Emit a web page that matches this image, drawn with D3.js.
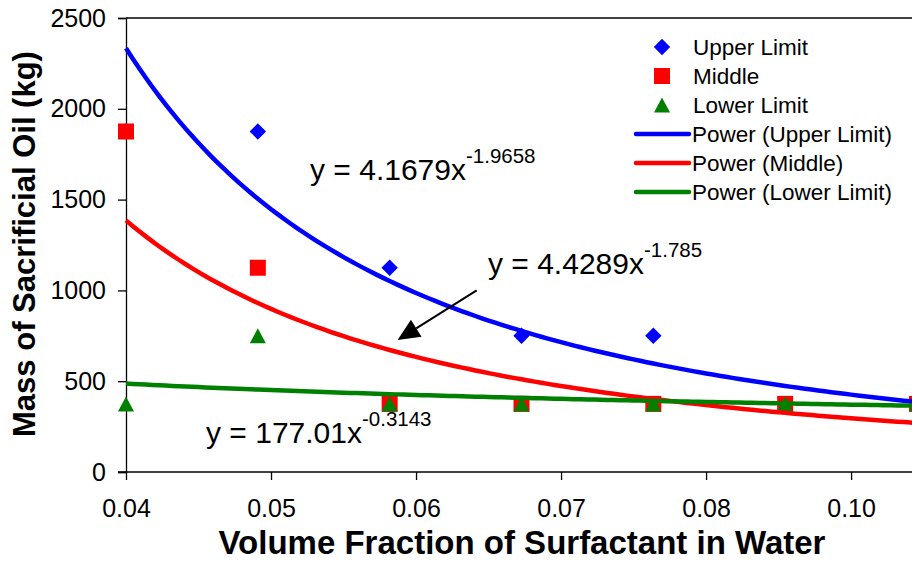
<!DOCTYPE html>
<html>
<head>
<meta charset="utf-8">
<script src="https://cdn.jsdelivr.net/npm/d3@7"></script>
<style>
  html, body { margin: 0; padding: 0; background: #fff; }
  svg { display: block; font-family: "Liberation Sans", Arial, sans-serif; }
</style>
</head>
<body>
<svg id="chart" width="912" height="562"></svg>
<script>
// Volume fraction of surfactant (x) and sacrificial oil mass (kg) per case
const fractions   = [0.04, 0.05, 0.06, 0.07, 0.08, 0.09, 0.10];
const upperLimit  = [1875, 1875, 1125, 750, 750, 375, 375];
const middle      = [1875, 1125, 375, 375, 375, 375, 375];
const lowerLimit  = [375, 750, 375, 375, 375, 375, 375];

// Power-law fits y = a * x^b
const fitCoef     = [4.1679, 4.4289, 177.01];
const fitExp      = [-1.9658, -1.785, -0.3143];

// Axis ticks
const xTickValues = [0.04, 0.051, 0.062, 0.073, 0.084, 0.095];
const xTickLabels = ["0.04", "0.05", "0.06", "0.07", "0.08", "0.10"];
const yTickValues = [0, 500, 1000, 1500, 2000, 2500];

const seriesNames = ["Upper Limit", "Middle", "Lower Limit"];
const colors = ["#0000ff", "#ff0000", "#008000"];
const shapes = ["diamond", "square", "triangle"];

const svg = d3.select("#chart");
const W = 912, H = 562;

const x = d3.scaleLinear().domain([0.04, 0.10]).range([126, 917]);
const y = d3.scaleLinear().domain([0, 2500]).range([472, 18]);

function markerPath(shape, cx, cy) {
  const p = d3.path();
  if (shape === "diamond") {
    const r = 8.2;
    p.moveTo(cx, cy - r); p.lineTo(cx + r, cy); p.lineTo(cx, cy + r); p.lineTo(cx - r, cy); p.closePath();
  } else if (shape === "square") {
    const h = 8;
    p.rect(cx - h, cy - h, 2 * h, 2 * h);
  } else {
    const hw = 8, hh = 7.5;
    p.moveTo(cx, cy - hh); p.lineTo(cx + hw, cy + hh); p.lineTo(cx - hw, cy + hh); p.closePath();
  }
  return p.toString();
}

// Axes
const axisG = svg.append("g");
// top border of plot area
axisG.append("line").attr("x1", x(0.04)).attr("x2", W).attr("y1", y(2500)).attr("y2", y(2500))
  .attr("stroke", "#000").attr("stroke-width", 1.3);

const yAxis = d3.axisLeft(y).tickValues(yTickValues).tickSize(8).tickPadding(12).tickFormat(d3.format("d"));
const yG = axisG.append("g").attr("transform", `translate(${x(0.04)},0)`).call(yAxis);
yG.select(".domain").attr("stroke", "#000").attr("stroke-width", 1.3);
yG.selectAll(".tick line").attr("stroke", "#000").attr("stroke-width", 1.3);
yG.selectAll(".tick text").attr("font-size", 25).attr("fill", "#000")
  .attr("font-family", "Liberation Sans, Arial, sans-serif");

const xAxis = d3.axisBottom(x).tickValues(xTickValues).tickSize(8).tickPadding(19)
  .tickFormat((d, i) => xTickLabels[i]);
const xG = axisG.append("g").attr("transform", `translate(0,${y(0)})`).call(xAxis);
xG.select(".domain").attr("stroke", "#000").attr("stroke-width", 1.3).attr("d", `M${x(0.04) - 8},0H${W}`);
xG.selectAll(".tick line").attr("stroke", "#000").attr("stroke-width", 1.3);
xG.selectAll(".tick text").attr("font-size", 25).attr("fill", "#000")
  .attr("font-family", "Liberation Sans, Arial, sans-serif");

// Axis titles
svg.append("text")
  .attr("x", 522).attr("y", 554)
  .attr("text-anchor", "middle")
  .attr("font-size", 33).attr("font-weight", "bold")
  .text("Volume Fraction of Surfactant in Water");

svg.append("text")
  .attr("transform", `translate(35,244) rotate(-90)`)
  .attr("text-anchor", "middle")
  .attr("font-size", 31).attr("font-weight", "bold")
  .text("Mass of Sacrificial Oil (kg)");

// Data markers
const allSeries = [upperLimit, middle, lowerLimit];
allSeries.forEach((vals, s) => {
  svg.append("g").selectAll("path")
    .data(vals.map((v, i) => [fractions[i], v]))
    .join("path")
    .attr("d", d => markerPath(shapes[s], x(d[0]), y(d[1])))
    .attr("fill", colors[s]);
});

// Power trend lines
const curveXs = d3.range(0, 121).map(i => 0.04 + (0.10 - 0.04) * i / 120);
const line = d3.line().x(d => x(d[0])).y(d => y(d[1]));
fitCoef.forEach((a, s) => {
  svg.append("path")
    .attr("d", line(curveXs.map(v => [v, a * Math.pow(v, fitExp[s])])))
    .attr("fill", "none")
    .attr("stroke", colors[s])
    .attr("stroke-width", 4.5);
});

// Fit equations
function equation(xv, yv, a, b) {
  const t = svg.append("text").attr("x", x(xv)).attr("y", y(yv)).attr("font-size", 30).attr("fill", "#000");
  t.append("tspan").text(`y = ${a}x`);
  t.append("tspan").attr("font-size", 20.5).attr("dy", -17).text(`${b}`);
}
equation(0.05396, 1608, "4.1679", "-1.9658");
equation(0.06746, 1090, "4.4289", "-1.785");
equation(0.04607, 160, "177.01", "-0.3143");

// Callout arrow pointing at the middle fit
const a0 = [x(0.0666), y(1000)], a1 = [x(0.0606), y(727)];
const dx = a0[0] - a1[0], dy = a0[1] - a1[1], len = Math.hypot(dx, dy);
const ux = dx / len, uy = dy / len;
const headLen = 22, headHalf = 10;
const bx = a1[0] + ux * headLen, by = a1[1] + uy * headLen;
svg.append("line")
  .attr("x1", a0[0]).attr("y1", a0[1]).attr("x2", bx).attr("y2", by)
  .attr("stroke", "#000").attr("stroke-width", 2);
svg.append("path")
  .attr("d", `M${a1[0]},${a1[1]}L${bx - uy * headHalf},${by + ux * headHalf}L${bx + uy * headHalf},${by - ux * headHalf}Z`)
  .attr("fill", "#000");

// Legend
const legend = svg.append("g").attr("font-size", 22.5);
const rowY = [47, 76, 105, 134, 163, 192];
seriesNames.forEach((name, i) => {
  legend.append("path").attr("d", markerPath(shapes[i], 662, rowY[i])).attr("fill", colors[i]);
  legend.append("text").attr("x", 693).attr("y", rowY[i] + 8).text(name);
});
seriesNames.forEach((name, i) => {
  const ry = rowY[i + 3];
  legend.append("line").attr("x1", 636).attr("x2", 689).attr("y1", ry).attr("y2", ry)
    .attr("stroke", colors[i]).attr("stroke-width", 4.5).attr("stroke-linecap", "round");
  legend.append("text").attr("x", 692).attr("y", ry + 8).text(`Power (${name})`);
});
</script>
</body>
</html>
